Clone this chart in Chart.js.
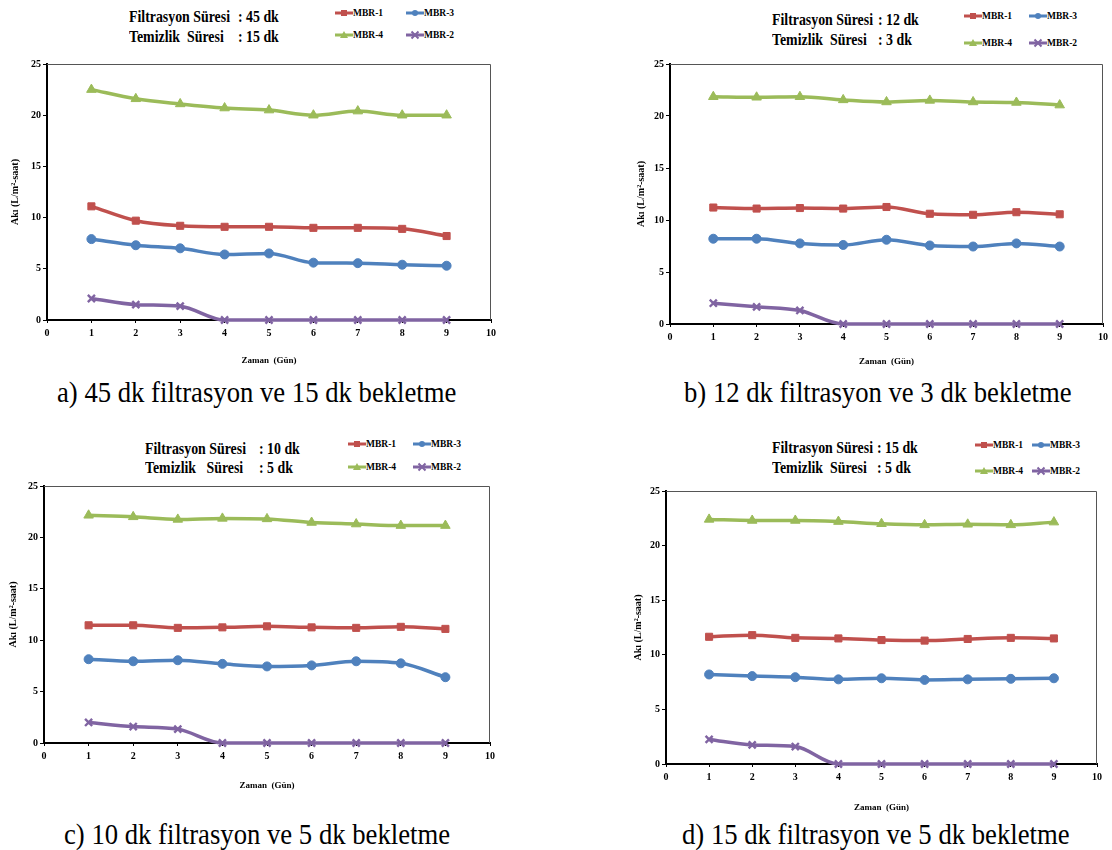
<!DOCTYPE html>
<html><head><meta charset="utf-8">
<script src="https://cdn.jsdelivr.net/npm/chart.js@4.4.1/dist/chart.umd.min.js"></script>
<style>
html,body{margin:0;padding:0;background:#fff;}
#root{position:relative;width:1112px;height:850px;overflow:hidden;background:#fff;}
.t{position:absolute;white-space:pre;color:#000;font-family:"Liberation Serif","Times New Roman",serif;transform-origin:left center;}
.cv{position:absolute;}
.lg{position:absolute;}
</style></head><body><div id="root"></div>
<script>
// ---------- data ----------
const days = [1, 2, 3, 4, 5, 6, 7, 8, 9];
const xTicks = [0, 1, 2, 3, 4, 5, 6, 7, 8, 9, 10];
const yTicks = [0, 5, 10, 15, 20, 25];
const seriesNames = ['MBR-1', 'MBR-3', 'MBR-4', 'MBR-2'];

// a) 45 dk filtrasyon / 15 dk
const a_mbr1 = [11.1, 9.7, 9.2, 9.1, 9.1, 9.0, 9.0, 8.9, 8.2];
const a_mbr3 = [7.9, 7.3, 7.0, 6.4, 6.5, 5.6, 5.55, 5.4, 5.3];
const a_mbr4 = [22.5, 21.6, 21.1, 20.7, 20.5, 20.0, 20.4, 20.0, 20.0];
const a_mbr2 = [2.1, 1.5, 1.35, 0, 0, 0, 0, 0, 0];
// b) 12 dk / 3 dk
const b_mbr1 = [11.2, 11.1, 11.15, 11.1, 11.25, 10.6, 10.5, 10.75, 10.55];
const b_mbr3 = [8.2, 8.2, 7.75, 7.6, 8.1, 7.55, 7.45, 7.75, 7.45];
const b_mbr4 = [21.85, 21.8, 21.85, 21.55, 21.35, 21.5, 21.35, 21.3, 21.05];
const b_mbr2 = [2.0, 1.65, 1.3, 0, 0, 0, 0, 0, 0];
// c) 10 dk / 5 dk
const c_mbr1 = [11.45, 11.45, 11.2, 11.25, 11.35, 11.25, 11.2, 11.3, 11.1];
const c_mbr3 = [8.15, 7.95, 8.05, 7.7, 7.45, 7.55, 7.95, 7.75, 6.4];
const c_mbr4 = [22.15, 22.0, 21.75, 21.85, 21.8, 21.45, 21.3, 21.15, 21.15];
const c_mbr2 = [2.0, 1.6, 1.35, 0, 0, 0, 0, 0, 0];
// d) 15 dk / 5 dk
const d_mbr1 = [11.65, 11.8, 11.55, 11.5, 11.35, 11.3, 11.45, 11.55, 11.5];
const d_mbr3 = [8.2, 8.05, 7.95, 7.75, 7.85, 7.7, 7.75, 7.8, 7.85];
const d_mbr4 = [22.4, 22.3, 22.3, 22.2, 22.0, 21.9, 21.95, 21.9, 22.15];
const d_mbr2 = [2.25, 1.75, 1.6, 0, 0, 0, 0, 0, 0];

// ---------- texts ----------
const xTitle = 'Zaman  (Gün)';
const yTitle = 'Akı (L/m²-saat)';
const headerL1 = ['Filtrasyon Süresi', 'Filtrasyon Süresi', 'Filtrasyon Süresi', 'Filtrasyon Süresi'];
const headerV1 = [': 45 dk', ': 12 dk', ': 10 dk', ': 15 dk'];
const headerL2 = ['Temizlik  Süresi', 'Temizlik  Süresi', 'Temizlik   Süresi', 'Temizlik  Süresi'];
const headerV2 = [': 15 dk', ': 3 dk', ': 5 dk', ': 5 dk'];
const captions = ['a) 45 dk filtrasyon ve 15 dk bekletme', 'b) 12 dk filtrasyon ve 3 dk bekletme',
                  'c) 10 dk filtrasyon ve 5 dk bekletme', 'd) 15 dk filtrasyon ve 5 dk bekletme'];

// ---------- styles / layout ----------
const colors = ['#C0504D', '#4F81BD', '#9BBB59', '#8064A2'];
const pStyles = ['rect', 'circle', 'triangle', 'crossRot'];
const pRadii = [5, 4.5, 5.5, 5];
const panels = [
  {vals: [a_mbr1, a_mbr3, a_mbr4, a_mbr2], plot: {l: 47, t: 64, r: 491, b: 320}, yTitleX: 15, xTitleY: 361,
   hx: 129, hv: 238, h1: 17, h2: 37, cap: {x: 57, y: 392}, lg: {x1: 335, x2: 406, y1: 13, y2: 35}},
  {vals: [b_mbr1, b_mbr3, b_mbr4, b_mbr2], plot: {l: 670, t: 64, r: 1103, b: 324}, yTitleX: 641, xTitleY: 362,
   hx: 772, hv: 878, h1: 20, h2: 40, cap: {x: 684, y: 392}, lg: {x1: 964, x2: 1029, y1: 16, y2: 43}},
  {vals: [c_mbr1, c_mbr3, c_mbr4, c_mbr2], plot: {l: 44, t: 486, r: 490, b: 743}, yTitleX: 13, xTitleY: 786,
   hx: 145, hv: 259, h1: 449, h2: 468, cap: {x: 64, y: 834}, lg: {x1: 348, x2: 413, y1: 444, y2: 467}},
  {vals: [d_mbr1, d_mbr3, d_mbr4, d_mbr2], plot: {l: 666, t: 491, r: 1097, b: 764}, yTitleX: 638, xTitleY: 808,
   hx: 772, hv: 877, h1: 448, h2: 468, cap: {x: 682, y: 834}, lg: {x1: 975, x2: 1032, y1: 445, y2: 471}}
];

const root = document.getElementById('root');
function txt(str, x, yc, size, weight, sx) {
  const d = document.createElement('div');
  d.className = 't';
  d.textContent = str;
  d.style.left = x + 'px';
  d.style.top = (yc - size * 0.6) + 'px';
  d.style.fontSize = size + 'px';
  d.style.lineHeight = (size * 1.2) + 'px';
  d.style.fontWeight = weight;
  d.style.transform = 'scaleX(' + sx + ')';
  root.appendChild(d);
}
const NS = 'http://www.w3.org/2000/svg';
function legendItem(i, x, yc) {
  const s = document.createElementNS(NS, 'svg');
  s.setAttribute('width', 18); s.setAttribute('height', 10);
  s.setAttribute('class', 'lg');
  s.style.left = x + 'px'; s.style.top = (yc - 5) + 'px';
  const c = colors[i];
  let h = '<line x1="0" y1="5" x2="18" y2="5" stroke="' + c + '" stroke-width="3"/>';
  if (i === 0) h += '<rect x="6" y="2" width="6" height="6" fill="' + c + '"/>';
  if (i === 1) h += '<circle cx="9" cy="5" r="3" fill="' + c + '"/>';
  if (i === 2) h += '<polygon points="9,1 13,8 5,8" fill="' + c + '"/>';
  if (i === 3) h += '<path d="M5.5,1.5 L12.5,8.5 M12.5,1.5 L5.5,8.5" stroke="' + c + '" stroke-width="2"/>';
  s.innerHTML = h;
  root.appendChild(s);
  txt(seriesNames[i], x + 18, yc, 10, 'bold', 0.95);
}

const framePlugin = {
  id: 'frame',
  beforeDatasetsDraw(chart) {
    const a = chart.chartArea, ctx = chart.ctx;
    ctx.save();
    ctx.strokeStyle = '#555';
    ctx.lineWidth = 1;
    ctx.beginPath();
    ctx.moveTo(a.left, a.top + 0.5);
    ctx.lineTo(a.right - 0.5, a.top + 0.5);
    ctx.lineTo(a.right - 0.5, a.bottom);
    ctx.stroke();
    ctx.restore();
  }
};

function makeChart(p) {
  const cl = p.plot.l - 46, ct = p.plot.t - 8, cr = p.plot.r + 12, cb = p.xTitleY + 9;
  const W = cr - cl, H = cb - ct;
  const cv = document.createElement('canvas');
  cv.width = W; cv.height = H; cv.className = 'cv';
  cv.style.left = cl + 'px'; cv.style.top = ct + 'px';
  cv.style.width = W + 'px'; cv.style.height = H + 'px';
  root.appendChild(cv);
  const ds = seriesNames.map((n, i) => ({
    label: n,
    data: days.map((d, j) => ({x: d, y: p.vals[i][j]})),
    borderColor: colors[i], backgroundColor: colors[i],
    pointBackgroundColor: colors[i], pointBorderColor: colors[i],
    borderWidth: 3.5, pointStyle: pStyles[i], pointRadius: pRadii[i],
    pointBorderWidth: i === 3 ? 2.4 : 1,
    cubicInterpolationMode: 'monotone', clip: false, fill: false
  }));
  const tickFont = {family: 'Liberation Serif', weight: 'bold', size: 10};
  const xTitleFont = {family: 'Liberation Serif', weight: 'bold', size: 9};
  const yTitleFont = {family: 'Liberation Serif', weight: 'bold', size: 10};
  new Chart(cv, {
    type: 'line',
    data: {datasets: ds},
    options: {
      responsive: false, animation: false, devicePixelRatio: 1, events: [],
      layout: {padding: {top: 8, right: 12, left: 0, bottom: 0}},
      plugins: {legend: {display: false}, tooltip: {enabled: false}},
      scales: {
        x: {
          type: 'linear', min: 0, max: 10,
          afterBuildTicks: s => { s.ticks = xTicks.map(v => ({value: v})); },
          afterFit: s => { s.height = cb - p.plot.b; },
          grid: {drawOnChartArea: false, drawTicks: true, tickLength: 3, color: '#000'},
          border: {display: true, color: '#000', width: 2},
          ticks: {color: '#000', font: tickFont, padding: 4, maxRotation: 0, autoSkip: false},
          title: {display: true, text: xTitle, color: '#000', font: xTitleFont,
                  padding: {top: 0, bottom: cb - p.xTitleY - 5.4}}
        },
        y: {
          type: 'linear', min: 0, max: 25,
          afterBuildTicks: s => { s.ticks = yTicks.map(v => ({value: v})); },
          afterFit: s => { s.width = 46; },
          grid: {drawOnChartArea: false, drawTicks: true, tickLength: 4, color: '#000'},
          border: {display: true, color: '#000', width: 2},
          ticks: {color: '#000', font: tickFont, padding: 2},
          title: {display: true, text: yTitle, color: '#000', font: yTitleFont,
                  padding: {top: p.yTitleX - cl - 6, bottom: 0}}
        }
      }
    },
    plugins: [framePlugin]
  });
}

panels.forEach((p, k) => {
  makeChart(p);
  txt(headerL1[k], p.hx, p.h1, 16.5, 'bold', 0.84);
  txt(headerV1[k], p.hv, p.h1, 16.5, 'bold', 0.84);
  txt(headerL2[k], p.hx, p.h2, 16.5, 'bold', 0.84);
  txt(headerV2[k], p.hv, p.h2, 16.5, 'bold', 0.84);
  legendItem(0, p.lg.x1, p.lg.y1);
  legendItem(1, p.lg.x2, p.lg.y1);
  legendItem(2, p.lg.x1, p.lg.y2);
  legendItem(3, p.lg.x2, p.lg.y2);
  txt(captions[k], p.cap.x, p.cap.y, 29, 'normal', 0.92);
});
</script></body></html>
